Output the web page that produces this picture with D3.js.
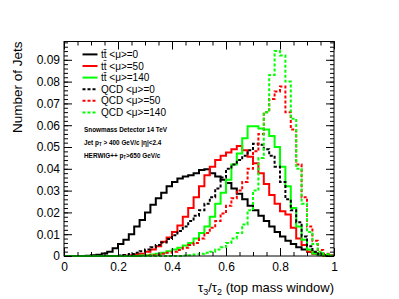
<!DOCTYPE html>
<html lang="en">
<head>
    <meta charset="UTF-8">
    <title>tau32 top mass window</title>
    <script src="https://cdn.jsdelivr.net/npm/d3@7"></script>
    <style>
        body {
            margin: 0;
            background-color: #fff;
            font-family: 'Liberation Sans', Arial, sans-serif;
        }
        svg {
            display: block;
        }
    </style>
</head>
<body>
    <svg id="chart"></svg>

    <script>
        // binning: 50 bins from 0 to 1
        const nBins = 50;
        const xMin = 0;
        const xMax = 1;
        const yMax = 0.0984;

        const xTicksMajor = [0, 0.2, 0.4, 0.6, 0.8, 1];
        const yTicksMajor = [0, 0.01, 0.02, 0.03, 0.04, 0.05, 0.06, 0.07, 0.08, 0.09];

        const seriesNames = ["tt\u0304 <\u03bc>=0", "tt\u0304 <\u03bc>=50", "tt\u0304 <\u03bc>=140",
                             "QCD <\u03bc>=0", "QCD <\u03bc>=50", "QCD <\u03bc>=140"];

        const ttMu0 = [0, 0, 0, 0, 0.0001, 0.0003, 0.0006, 0.0012, 0.002, 0.0035,
                       0.0055, 0.0075, 0.01, 0.0135, 0.0165, 0.02, 0.0235, 0.0265, 0.029, 0.032,
                       0.034, 0.0355, 0.0365, 0.037, 0.038, 0.0395, 0.0398, 0.038, 0.0365, 0.035,
                       0.0335, 0.031, 0.0285, 0.026, 0.023, 0.021, 0.0185, 0.016, 0.0135, 0.011,
                       0.009, 0.007, 0.0055, 0.004, 0.003, 0.002, 0.0013, 0.0007, 0.0003, 0.0001];

        const ttMu50 = [0, 0, 0, 0, 0, 0, 0, 0, 0, 0,
                        0, 0.0002, 0.0004, 0.0007, 0.001, 0.002, 0.003, 0.0045, 0.0065, 0.0085,
                        0.011, 0.014, 0.018, 0.022, 0.027, 0.032, 0.037, 0.041, 0.044, 0.046,
                        0.0475, 0.049, 0.0505, 0.0485, 0.0455, 0.0425, 0.038, 0.033, 0.028, 0.024,
                        0.0205, 0.019, 0.013, 0.008, 0.005, 0.002, 0.001, 0.0004, 0.0001, 0];

        const ttMu140 = [0, 0, 0, 0, 0, 0, 0, 0, 0, 0,
                         0, 0, 0, 0, 0.0002, 0.0004, 0.0007, 0.001, 0.0015, 0.0022,
                         0.003, 0.0038, 0.0048, 0.006, 0.008, 0.0105, 0.0135, 0.018, 0.024, 0.029,
                         0.035, 0.042, 0.047, 0.054, 0.0595, 0.0595, 0.0585, 0.058, 0.055, 0.05,
                         0.041, 0.032, 0.022, 0.0135, 0.0075, 0.003, 0.0012, 0.0005, 0.0002, 0];

        const qcdMu0 = [0, 0, 0, 0, 0, 0, 0, 0, 0, 0,
                        0.0002, 0.0005, 0.0009, 0.0015, 0.0022, 0.003, 0.004, 0.005, 0.0062, 0.0078,
                        0.0095, 0.0115, 0.0135, 0.016, 0.0185, 0.021, 0.024, 0.027, 0.031, 0.036,
                        0.04, 0.042, 0.044, 0.046, 0.0485, 0.0515, 0.051, 0.049, 0.046, 0.041,
                        0.034, 0.026, 0.021, 0.0155, 0.009, 0.0045, 0.002, 0.0008, 0.0003, 0];

        const qcdMu50 = [0, 0, 0, 0, 0, 0, 0, 0, 0, 0,
                         0, 0, 0, 0, 0, 0.0002, 0.0004, 0.0006, 0.001, 0.0015,
                         0.002, 0.0028, 0.0038, 0.005, 0.006, 0.008, 0.0105, 0.013, 0.016, 0.0195,
                         0.023, 0.0265, 0.03, 0.034, 0.04, 0.048, 0.056, 0.066, 0.072, 0.0755,
                         0.0778, 0.066, 0.058, 0.042, 0.027, 0.0135, 0.007, 0.0028, 0.001, 0.0003];

        const qcdMu140 = [0, 0, 0, 0, 0, 0, 0, 0, 0, 0,
                          0, 0, 0, 0, 0, 0, 0, 0, 0, 0,
                          0, 0, 0.0002, 0.0004, 0.0007, 0.001, 0.0015, 0.002, 0.003, 0.004,
                          0.006, 0.008, 0.0105, 0.0145, 0.021, 0.03, 0.045, 0.066, 0.083, 0.094,
                          0.092, 0.08, 0.063, 0.04, 0.024, 0.011, 0.0055, 0.002, 0.0008, 0.0002];

        const seriesValues = [ttMu0, ttMu50, ttMu140, qcdMu0, qcdMu50, qcdMu140];
        const seriesColors = ["#000000", "#ff0000", "#00ff00", "#000000", "#ff0000", "#00ff00"];
        const seriesDashed = [false, false, false, true, true, true];

        const width = 399;
        const height = 299;
        const frame = { left: 64, right: 334, top: 41.5, bottom: 256 };

        const svg = d3.select("#chart")
            .attr("width", width)
            .attr("height", height);

        const x = d3.scaleLinear().domain([xMin, xMax]).range([frame.left, frame.right]);
        const y = d3.scaleLinear().domain([0, yMax]).range([frame.bottom, frame.top]);

        const binWidth = (xMax - xMin) / nBins;

        // histograms as step outlines
        const line = d3.line()
            .x(d => x(d[0]))
            .y(d => y(d[1]))
            .curve(d3.curveStepAfter);

        const plot = svg.append("g");

        seriesValues.forEach((vals, s) => {
            const pts = [[xMin, 0]];
            vals.forEach((v, i) => pts.push([xMin + i * binWidth, v]));
            pts.push([xMax, 0]);
            plot.append("path")
                .attr("d", line(pts))
                .attr("fill", "none")
                .attr("stroke", seriesColors[s])
                .attr("stroke-width", 2)
                .attr("stroke-dasharray", seriesDashed[s] ? "3,2" : null);
        });

        // frame + ticks (ROOT style, inward on all four sides)
        const xMinor = d3.range(0, 21).map(i => i * 0.05);
        const yMinor = d3.range(0, 50).map(i => i * 0.002).filter(v => v <= yMax);

        function styleAxis(g) {
            g.select(".domain").remove();
            g.selectAll("line").attr("stroke", "#000");
            g.selectAll("text")
                .attr("font-family", "'Liberation Sans', Arial, sans-serif")
                .attr("font-size", 12)
                .attr("fill", "#000");
        }

        const fmtX = v => v === 0 ? "0" : v === 1 ? "1" : d3.format(".1f")(v);
        const fmtY = v => v === 0 ? "0" : d3.format(".2f")(v);

        svg.append("g")
            .attr("transform", `translate(0,${frame.bottom})`)
            .call(d3.axisBottom(x).tickValues(xMinor).tickSize(-4).tickFormat(""))
            .call(styleAxis);
        svg.append("g")
            .attr("transform", `translate(0,${frame.bottom})`)
            .call(d3.axisBottom(x).tickValues(xTicksMajor).tickSize(-8).tickPadding(6).tickFormat(fmtX))
            .call(styleAxis);
        svg.append("g")
            .attr("transform", `translate(0,${frame.top})`)
            .call(d3.axisTop(x).tickValues(xMinor).tickSize(-4).tickFormat(""))
            .call(styleAxis);
        svg.append("g")
            .attr("transform", `translate(0,${frame.top})`)
            .call(d3.axisTop(x).tickValues(xTicksMajor).tickSize(-8).tickFormat(""))
            .call(styleAxis);

        svg.append("g")
            .attr("transform", `translate(${frame.left},0)`)
            .call(d3.axisLeft(y).tickValues(yMinor).tickSize(-4).tickFormat(""))
            .call(styleAxis);
        svg.append("g")
            .attr("transform", `translate(${frame.left},0)`)
            .call(d3.axisLeft(y).tickValues(yTicksMajor).tickSize(-8).tickPadding(4).tickFormat(fmtY))
            .call(styleAxis);
        svg.append("g")
            .attr("transform", `translate(${frame.right},0)`)
            .call(d3.axisRight(y).tickValues(yMinor).tickSize(-4).tickFormat(""))
            .call(styleAxis);
        svg.append("g")
            .attr("transform", `translate(${frame.right},0)`)
            .call(d3.axisRight(y).tickValues(yTicksMajor).tickSize(-8).tickFormat(""))
            .call(styleAxis);

        svg.append("rect")
            .attr("x", frame.left)
            .attr("y", frame.top)
            .attr("width", frame.right - frame.left)
            .attr("height", frame.bottom - frame.top)
            .attr("fill", "none")
            .attr("stroke", "#000")
            .attr("stroke-width", 1);

        // axis titles
        const xTitle = svg.append("text")
            .attr("x", frame.right)
            .attr("y", 292)
            .attr("text-anchor", "end")
            .attr("font-size", 13)
            .attr("fill", "#000");
        xTitle.append("tspan").text("\u03c4");
        xTitle.append("tspan").attr("font-size", 9).attr("dy", 3).text("3");
        xTitle.append("tspan").attr("dy", -3).text("/\u03c4");
        xTitle.append("tspan").attr("font-size", 9).attr("dy", 3).text("2");
        xTitle.append("tspan").attr("dy", -3).text(" (top mass window)");

        svg.append("text")
            .attr("transform", `translate(21.5,${frame.top}) rotate(-90)`)
            .attr("text-anchor", "end")
            .attr("font-size", 13.5)
            .attr("fill", "#000")
            .text("Number of Jets");

        // legend
        const legend = svg.append("g");
        seriesNames.forEach((name, i) => {
            const ly = 54.4 + i * 11.6;
            legend.append("line")
                .attr("x1", 82.5).attr("x2", 97.5)
                .attr("y1", ly).attr("y2", ly)
                .attr("stroke", seriesColors[i])
                .attr("stroke-width", 2)
                .attr("stroke-dasharray", seriesDashed[i] ? "3,2" : null);
            legend.append("text")
                .attr("x", 101)
                .attr("y", ly + 3.5)
                .attr("font-size", 10)
                .attr("fill", "#000")
                .text(name);
        });

        // info text
        const info = svg.append("g")
            .attr("font-size", 6.4)
            .attr("font-weight", "bold")
            .attr("fill", "#000");
        info.append("text").attr("x", 84).attr("y", 131.5).text("Snowmass Detector 14 TeV");
        const jet = info.append("text").attr("x", 84).attr("y", 144.5);
        jet.append("tspan").text("Jet p");
        jet.append("tspan").attr("font-size", 4.5).attr("dy", 1.5).text("T");
        jet.append("tspan").attr("dy", -1.5).text(" > 400 GeV/c  |\u03b7|<2.4");
        const herwig = info.append("text").attr("x", 84).attr("y", 157.5);
        herwig.append("tspan").text("HERWIG++ p");
        herwig.append("tspan").attr("font-size", 4.5).attr("dy", 1.5).text("T");
        herwig.append("tspan").attr("dy", -1.5).text(">650 GeV/c");
    </script>
</body>
</html>
